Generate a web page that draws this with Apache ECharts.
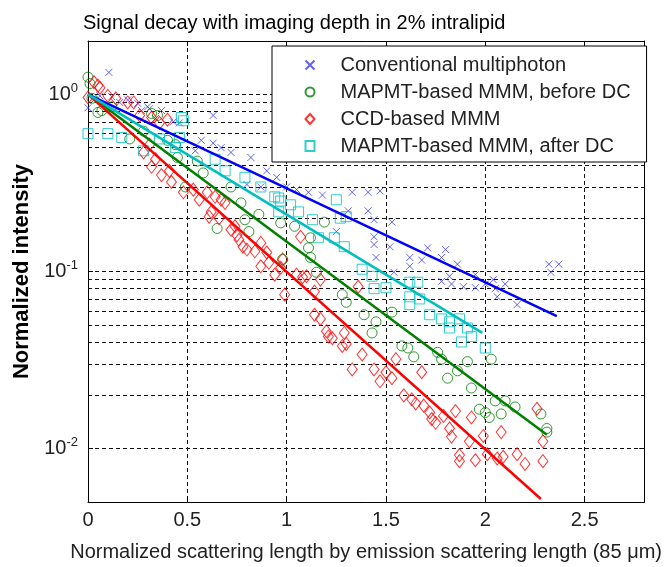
<!DOCTYPE html>
<html>
<head>
<meta charset="utf-8">
<script src="https://cdn.jsdelivr.net/npm/echarts@6/dist/echarts.min.js"></script>
<style>
  html, body { margin: 0; background: #fff; }
  #chart { width: 665px; height: 567px; }
</style>
</head>
<body>
<div id="chart"></div>
<script>
// scatter points [x, normalized intensity]
var convPts = [
  [0.0, 0.84], [0.03, 0.93], [0.06, 0.98], [0.105, 1.33], [0.12, 0.97], [0.16, 0.9], [0.2, 0.93],
  [0.25, 0.89], [0.27, 0.81], [0.3, 0.85], [0.31, 0.83], [0.34, 0.73], [0.37, 0.81], [0.43, 0.7],
  [0.46, 0.69], [0.54, 0.48], [0.57, 0.55], [0.63, 0.76], [0.63, 0.53], [0.67, 0.5], [0.72, 0.47],
  [0.8, 0.31], [0.82, 0.44], [0.87, 0.3], [0.9, 0.37], [0.95, 0.34], [1.0, 0.3], [1.05, 0.29],
  [1.11, 0.28], [1.18, 0.27], [1.25, 0.168], [1.31, 0.22], [1.33, 0.28], [1.41, 0.28], [1.41, 0.22],
  [1.44, 0.196], [1.44, 0.157], [1.44, 0.142], [1.45, 0.12], [1.47, 0.285], [1.52, 0.138], [1.53, 0.19],
  [1.54, 0.099], [1.62, 0.12], [1.62, 0.107], [1.68, 0.116], [1.71, 0.136], [1.78, 0.12], [1.78, 0.088],
  [1.8, 0.133], [1.82, 0.094], [1.83, 0.085], [1.86, 0.11], [1.89, 0.082], [1.95, 0.096], [1.95, 0.081],
  [2.0, 0.085], [2.04, 0.09], [2.05, 0.08], [2.06, 0.072], [2.1, 0.085], [2.16, 0.065],
  [2.32, 0.11], [2.33, 0.099], [2.37, 0.11]
];
var beforePts = [
  [0.0, 1.25], [0.01, 1.15], [0.02, 0.95], [0.05, 0.79], [0.07, 0.81], [0.12, 0.85], [0.21, 0.56],
  [0.28, 0.62], [0.32, 0.78], [0.35, 0.76], [0.4, 0.55], [0.44, 0.52], [0.45, 0.44], [0.49, 0.3],
  [0.55, 0.42], [0.58, 0.36], [0.65, 0.175], [0.72, 0.3], [0.77, 0.244], [0.79, 0.196], [0.81, 0.168],
  [0.86, 0.21], [0.97, 0.188], [0.98, 0.117], [1.04, 0.18], [1.11, 0.136], [1.12, 0.155], [1.12, 0.12],
  [1.15, 0.099], [1.19, 0.19], [1.28, 0.074], [1.3, 0.067], [1.39, 0.057], [1.43, 0.045], [1.45, 0.052],
  [1.53, 0.059], [1.58, 0.038], [1.61, 0.037], [1.64, 0.033], [1.76, 0.035], [1.78, 0.032], [1.81, 0.025],
  [1.86, 0.0275], [1.91, 0.031], [1.93, 0.022], [1.97, 0.0167], [2.0, 0.016], [2.02, 0.015], [2.03, 0.032],
  [2.05, 0.0186], [2.08, 0.0157], [2.1, 0.0186], [2.15, 0.0172], [2.28, 0.0157], [2.31, 0.013], [2.31, 0.0124]
];
var ccdPts = [
  [0.0, 0.96], [0.03, 1.17], [0.05, 1.12], [0.06, 1.09], [0.1, 0.98], [0.14, 0.95], [0.2, 0.9],
  [0.23, 0.9], [0.26, 0.76], [0.28, 0.47], [0.31, 0.52], [0.32, 0.74], [0.32, 0.39], [0.34, 0.43],
  [0.36, 0.69], [0.37, 0.35], [0.4, 0.72], [0.41, 0.37], [0.42, 0.32], [0.48, 0.28], [0.53, 0.29],
  [0.56, 0.254], [0.6, 0.28], [0.61, 0.204], [0.62, 0.217], [0.64, 0.264], [0.66, 0.2], [0.67, 0.254],
  [0.69, 0.244], [0.72, 0.172], [0.74, 0.18], [0.75, 0.16], [0.76, 0.151], [0.78, 0.138], [0.8, 0.133],
  [0.84, 0.13], [0.87, 0.145], [0.87, 0.107], [0.9, 0.128], [0.91, 0.112], [0.94, 0.096], [0.97, 0.105],
  [0.98, 0.117], [0.99, 0.074], [1.05, 0.096], [1.07, 0.157], [1.08, 0.093], [1.1, 0.094], [1.14, 0.077],
  [1.14, 0.057], [1.17, 0.09], [1.17, 0.054], [1.2, 0.046], [1.21, 0.043], [1.23, 0.042], [1.28, 0.038],
  [1.29, 0.045], [1.3, 0.039], [1.33, 0.028], [1.36, 0.082], [1.38, 0.034], [1.44, 0.028], [1.47, 0.024],
  [1.5, 0.027], [1.53, 0.025], [1.55, 0.032], [1.59, 0.02], [1.63, 0.019], [1.65, 0.018], [1.68, 0.027],
  [1.69, 0.0175], [1.72, 0.016], [1.73, 0.0147], [1.75, 0.014], [1.79, 0.0153], [1.82, 0.013], [1.83, 0.0117],
  [1.85, 0.0163], [1.87, 0.0092], [1.87, 0.0085], [1.92, 0.011], [1.93, 0.015], [1.95, 0.0086], [1.99, 0.0118],
  [2.01, 0.0093], [2.06, 0.0088], [2.08, 0.0124], [2.09, 0.009], [2.16, 0.0093], [2.2, 0.0082],
  [2.26, 0.0168], [2.29, 0.011], [2.29, 0.0085]
];
var afterPts = [
  [0.0, 0.6], [0.1, 0.6], [0.17, 0.57], [0.28, 0.48], [0.36, 0.56], [0.44, 0.5], [0.46, 0.57],
  [0.47, 0.74], [0.48, 0.71], [0.64, 0.43], [0.69, 0.37], [0.79, 0.34], [0.87, 0.3], [0.94, 0.264],
  [0.96, 0.26], [0.96, 0.217], [0.97, 0.25], [1.02, 0.238], [1.06, 0.217], [1.13, 0.196], [1.16, 0.155],
  [1.24, 0.155], [1.25, 0.254], [1.27, 0.2], [1.29, 0.138], [1.3, 0.204], [1.38, 0.103], [1.43, 0.094],
  [1.44, 0.08], [1.5, 0.081], [1.62, 0.087], [1.62, 0.072], [1.62, 0.065], [1.66, 0.087], [1.67, 0.07],
  [1.72, 0.057], [1.78, 0.054], [1.82, 0.052], [1.82, 0.048], [1.87, 0.054], [1.88, 0.04], [1.91, 0.048],
  [1.93, 0.043], [2.0, 0.037]
];

// exponential fits (start and end of each straight line on the log plot)
var convFit = [[0, 1.0], [2.36, 0.056]];
var beforeFit = [[0, 1.0], [2.31, 0.012]];
var ccdFit = [[0, 1.0], [2.28, 0.0052]];
var afterFit = [[0, 1.0], [1.985, 0.045]];

var names = [
  'Conventional multiphoton',
  'MAPMT-based MMM, before DC',
  'CCD-based MMM',
  'MAPMT-based MMM, after DC'
];
// dashed minor grid on the log axis
var minorGrid = [0.006, 0.007, 0.008, 0.009, 0.02, 0.03, 0.04, 0.05, 0.06, 0.07, 0.08, 0.09,
  0.2, 0.3, 0.4, 0.5, 0.6, 0.7, 0.8, 0.9];

var FONT = "'Liberation Sans', Arial, sans-serif";
var gridDash = { color: '#111', width: 1, type: [4, 3] };

function scatter(name, pts, symbol, size, color) {
  return {
    name: name, type: 'scatter', data: pts, symbol: symbol, symbolSize: size,
    itemStyle: { color: 'none', borderColor: color, borderWidth: 1 },
    z: 3, silent: true
  };
}
function fit(name, pts, color) {
  return {
    name: name, type: 'line', data: pts, symbol: 'none',
    lineStyle: { color: color, width: 2.5 }, z: 4, silent: true
  };
}

var chart = echarts.init(document.getElementById('chart'));
chart.setOption({
  animation: false,
  title: {
    text: 'Signal decay with imaging depth in 2% intralipid',
    left: 78, top: 8,
    textStyle: { fontFamily: FONT, fontSize: 20, fontWeight: 'normal', color: '#000' }
  },
  legend: {
    data: names, orient: 'vertical', left: 272, top: 46, z: 10,
    padding: [9, 16, 6, 31], itemWidth: 9, itemHeight: 10, itemGap: 7,
    backgroundColor: '#fff', borderColor: '#000', borderWidth: 1,
    selectedMode: false,
    textStyle: { fontFamily: FONT, fontSize: 20, color: '#222', lineHeight: 20, padding: [0, 0, 0, 21] }
  },
  grid: { left: 88, right: 13, top: 41, bottom: 63 },
  xAxis: [{
    type: 'value', min: 0, max: 2.8, interval: 0.5,
    name: 'Normalized scattering length by emission scattering length (85 \u03bcm)',
    nameLocation: 'middle', nameGap: 40,
    nameTextStyle: { fontFamily: FONT, fontSize: 20, color: '#222' },
    axisLine: { onZero: false, lineStyle: { color: '#000', width: 1 } },
    axisTick: { inside: true, length: 5, lineStyle: { color: '#000' } },
    axisLabel: {
      fontFamily: FONT, fontSize: 20, color: '#222', margin: 8,
      formatter: function (v) { return v > 2.6 ? '' : String(v); }
    },
    splitLine: { show: true, lineStyle: gridDash }
  }, {
    type: 'value', min: 0, max: 2.8, interval: 0.5, position: 'top',
    axisLine: { onZero: false, lineStyle: { color: '#000', width: 1 } },
    axisTick: { inside: true, length: 5, lineStyle: { color: '#000' } },
    axisLabel: { show: false }, splitLine: { show: false }
  }],
  yAxis: [{
    type: 'log', logBase: 10, min: 0.005, max: 2,
    name: 'Normalized intensity', nameLocation: 'middle', nameGap: 55,
    nameTextStyle: { fontFamily: FONT, fontSize: 22, fontWeight: 'bold', color: '#000' },
    axisLine: { show: true, onZero: false, lineStyle: { color: '#000', width: 1 } },
    axisTick: { show: true, inside: true, length: 5, lineStyle: { color: '#000' } },
    axisLabel: {
      margin: 10,
      formatter: function (v) {
        var l = Math.log10(v), e = Math.round(l);
        if (Math.abs(l - e) > 1e-6) return '';
        return '{b|10}{s|' + e + '}';
      },
      rich: {
        b: { fontFamily: FONT, fontSize: 20, color: '#222' },
        s: { fontFamily: FONT, fontSize: 13, color: '#222', padding: [0, 0, 12, 0] }
      }
    },
    splitLine: { show: true, lineStyle: gridDash }
  }, {
    type: 'log', logBase: 10, min: 0.005, max: 2, position: 'right',
    axisLine: { show: true, onZero: false, lineStyle: { color: '#000', width: 1 } },
    axisTick: { show: true, inside: true, length: 5, lineStyle: { color: '#000' } },
    axisLabel: { show: false }, splitLine: { show: false }
  }],
  series: [
    {
      name: 'grid', type: 'line', data: [], z: 1, silent: true,
      markLine: {
        z: 1, silent: true, symbol: ['none', 'none'], label: { show: false },
        lineStyle: gridDash, animation: false,
        emphasis: { disabled: true },
        data: minorGrid.map(function (v) { return { yAxis: v }; })
      }
    },
    scatter(names[0], convPts, 'path://M0,0L10,10M10,0L0,10', 7, '#3939ff'),
    scatter(names[1], beforePts, 'circle', 10, '#008000'),
    scatter(names[2], ccdPts, 'diamond', [10, 13], '#ff0000'),
    scatter(names[3], afterPts, 'rect', 10, '#00bfbf'),
    fit('fit conventional', convFit, '#0000ff'),
    fit('fit before DC', beforeFit, '#008000'),
    fit('fit CCD', ccdFit, '#ff0000'),
    fit('fit after DC', afterFit, '#00bfbf')
  ]
});
</script>
</body>
</html>
